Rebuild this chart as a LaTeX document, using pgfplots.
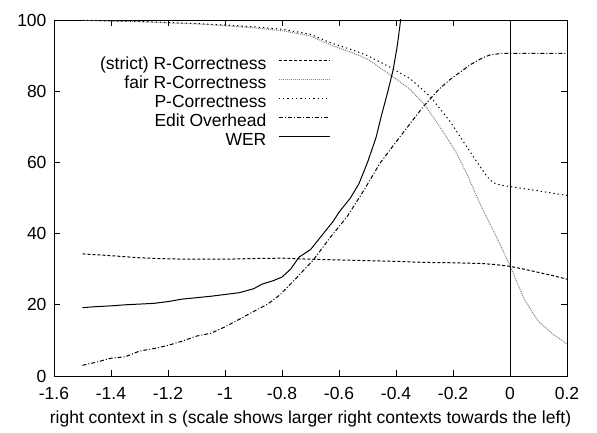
\documentclass[border=0pt]{standalone}
\usepackage{pgfplots}
\pgfplotsset{compat=1.18}
\usepackage{fontspec}
\setmainfont{Liberation Sans}

\begin{document}
\begin{tikzpicture}[font=\fontsize{17.5}{19}\selectfont]
\begin{axis}[
    scale only axis,
    width=513pt, height=356pt,
    xmin=-1.6, xmax=0.2,
    ymin=0, ymax=100,
    xtick={-1.6,-1.4,-1.2,-1,-0.8,-0.6,-0.4,-0.2,0,0.2},
    xticklabels={-1.6,-1.4,-1.2,-1,-0.8,-0.6,-0.4,-0.2,0,0.2},
    ytick={0,20,40,60,80,100},
    /pgf/number format/assume math mode=true,
    tick align=inside,
    major tick length=6pt,
    axis line style={line width=0.9pt},
    tick style={line width=0.7pt, black},
    xticklabel style={yshift=-8pt},
    yticklabel style={xshift=-4pt},
    xlabel={right context in s (scale shows larger right contexts towards the left)},
    xlabel style={yshift=-4pt},
    legend plot pos=right,
    legend cell align=right,
    legend image code/.code={\path (0pt,0pt); \draw[#1] (11pt,5.5pt) -- (62pt,5.5pt);},
    legend style={at={(0.545,0.905)}, anchor=north east, draw=none, fill=none,
        nodes={inner sep=1pt, text height=12.3pt, text depth=4.7pt}},
    every axis plot/.append style={line width=1pt},
]
\addplot[black, dash pattern=on 3pt off 2pt] coordinates {
(-1.5,34.3) (-1.4,33.8) (-1.3,33.2) (-1.2,32.9) (-1.1,32.8) (-1.0,32.8)
(-0.9,33.0) (-0.8,33.1) (-0.7,32.8) (-0.6,32.6) (-0.5,32.4) (-0.4,32.2)
(-0.3,31.9) (-0.2,31.8) (-0.1,31.6) (-0.05,31.3) (0,30.8) (0.05,30.0)
(0.1,29.1) (0.15,28.2) (0.2,27.2)
};
\addlegendentry{(strict) R-Correctness}
\addplot[black!50, dash pattern=on 1pt off 1pt] coordinates {
(-1.5,99.9) (-1.3,99.5) (-1.1,98.9) (-1.0,98.4) (-0.9,97.8) (-0.8,97.0)
(-0.7,95.5) (-0.63,93.0) (-0.55,90.7) (-0.5,89.0) (-0.42,84.6) (-0.35,80.5)
(-0.3,76.2) (-0.25,70.5) (-0.19,63.0) (-0.15,56.5) (-0.1,47.5) (-0.05,39.5)
(0,31.0) (0.05,21.5) (0.1,15.3) (0.15,11.8) (0.2,9.0)
};
\addlegendentry{fair R-Correctness}
\addplot[black, dash pattern=on 1.3pt off 3pt] coordinates {
(-1.5,99.9) (-1.3,99.6) (-1.1,99.0) (-1.0,98.6) (-0.9,98.1) (-0.8,97.4)
(-0.7,96.0) (-0.63,93.6) (-0.55,91.5) (-0.5,90.0) (-0.42,86.7) (-0.35,83.5)
(-0.28,78.5) (-0.21,71.5) (-0.175,67.2) (-0.14,63.0) (-0.105,58.8) (-0.08,56.0)
(-0.06,54.3) (-0.03,53.6) (0,53.2) (0.1,52.0) (0.2,50.7)
};
\addlegendentry{P-Correctness}
\addplot[black, dash pattern=on 4pt off 2pt on 1pt off 2pt] coordinates {
(-1.5,3.0) (-1.45,3.9) (-1.4,5.0) (-1.35,5.4) (-1.3,7.0) (-1.25,7.7)
(-1.2,8.6) (-1.15,9.8) (-1.1,11.2) (-1.05,12.0) (-1.0,13.8) (-0.96,15.5)
(-0.9,18.1) (-0.85,20.2) (-0.807,22.8) (-0.75,27.5) (-0.69,32.6) (-0.63,39.0)
(-0.572,44.7) (-0.51,52.5) (-0.456,59.8) (-0.386,67.2) (-0.305,75.6)
(-0.25,80.5) (-0.21,83.3) (-0.14,87.4) (-0.1,89.2) (-0.07,90.2) (-0.03,90.6)
(0,90.6) (0.2,90.6)
};
\addlegendentry{Edit Overhead}
\addplot[black, solid, restrict y to domain=0:110] coordinates {
(-1.5,19.2) (-1.45,19.5) (-1.4,19.7) (-1.35,20.0) (-1.3,20.2) (-1.25,20.4)
(-1.2,20.9) (-1.15,21.6) (-1.1,22.0) (-1.05,22.4) (-1.0,22.9) (-0.95,23.4)
(-0.9,24.5) (-0.87,25.8) (-0.83,26.8) (-0.8,27.8) (-0.77,30.0) (-0.74,33.4)
(-0.7,35.5) (-0.66,39.5) (-0.62,43.5) (-0.6,46.0) (-0.56,50.0) (-0.53,54.0)
(-0.5,60.0) (-0.47,67.0) (-0.45,73.5) (-0.43,79.5) (-0.41,86.0) (-0.395,93.0)
(-0.383,100.5) (-0.378,103.0)
};
\addlegendentry{WER}
\addplot[black, solid, forget plot] coordinates {(0,0) (0,100)};
\end{axis}
\pgfresetboundingbox
\path (current axis.south west) ++(-54pt,-57pt) rectangle ++(597pt,433pt);
\end{tikzpicture}
\end{document}
